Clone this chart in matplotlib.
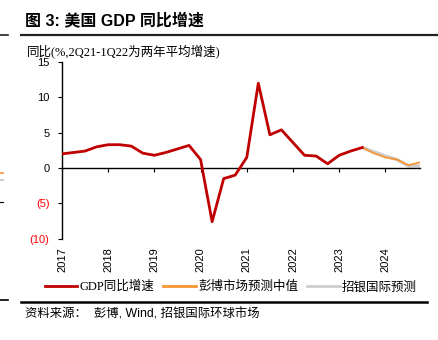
import matplotlib
matplotlib.use("Agg")
import matplotlib.pyplot as plt
from matplotlib.lines import Line2D

plt.rcParams['font.family'] = ['Liberation Sans', 'Noto Sans CJK SC', 'DejaVu Sans']

# ---- data (quarterly, 1Q17 = index 0) ----
years = ['2017', '2018', '2019', '2020', '2021', '2022', '2023', '2024']
gdp_yoy = [2.0, 2.2, 2.4, 3.0, 3.3, 3.3, 3.1, 2.1,
           1.8, 2.2, 2.7, 3.2, 1.2, -7.6, -1.5, -1.0,
           1.5, 12.0, 4.7, 5.4, 3.6, 1.8, 1.7, 0.6,
           1.8, 2.4, 2.9]
bbg_fcst = [2.9, 2.1, 1.5, 1.2, 0.4, 0.8]
cmbi_fcst = [2.9, 2.3, 1.7, 1.2, 0.3, 0.3]
yticks = [-10, -5, 0, 5, 10, 15]
ytick_labels = ['(10)', '(5)', '0', '5', '10', '15']

gdp_x = list(range(len(gdp_yoy)))
fc_start = len(gdp_yoy) - 1
bbg_x = list(range(fc_start, fc_start + len(bbg_fcst)))
cmbi_x = list(range(fc_start, fc_start + len(cmbi_fcst)))
year_pos = [4 * i for i in range(len(years))]

RED = '#C00000'
ORANGE = '#F79433'
GREY = '#CDCDCD'

fig = plt.figure(figsize=(4.39, 3.40), dpi=100)
W, H = 439, 340
ax = fig.add_axes([62 / W, 1 - 238.7 / H, (420 - 62) / W, (238.7 - 62) / H])

ax.plot(cmbi_x, cmbi_fcst, color=GREY, lw=2.4, solid_capstyle='butt', zorder=2)
ax.plot(bbg_x, bbg_fcst, color=ORANGE, lw=1.3, zorder=3)
ax.plot(gdp_x, gdp_yoy, color=RED, lw=2.0, zorder=4)

ax.set_xlim(0, 31)
ax.set_ylim(-10, 15)

for s in ['top', 'right']:
    ax.spines[s].set_visible(False)
ax.spines['left'].set_linewidth(1.0)
ax.spines['bottom'].set_position(('data', 0))
ax.spines['bottom'].set_linewidth(1.0)

ax.set_yticks(yticks)
ax.set_yticklabels(ytick_labels)
for lab, v in zip(ax.get_yticklabels(), yticks):
    lab.set_color('#FF0000' if v < 0 else 'black')
ax.tick_params(axis='y', direction='out', length=3, width=0.8, pad=6, labelsize=8)

ax.set_xticks(year_pos)
ax.tick_params(axis='x', direction='out', length=3, width=0.8, labelbottom=False)

sec = ax.secondary_xaxis(0)
sec.set_xticks(year_pos)
sec.set_xticklabels(years, rotation=90)
sec.tick_params(axis='x', length=0, pad=6, labelsize=8)
sec.spines['bottom'].set_visible(False)

# y axis caption
fig.text(27 / W, 1 - 51 / H, '同比(%,2Q21-1Q22为两年平均增速)', fontsize=9,
         family=['Liberation Serif', 'Noto Sans CJK SC'], ha='left', va='center')

# title
fig.text(25 / W, 1 - 20 / H, '图 3: 美国 GDP 同比增速', fontsize=11.5, fontweight='bold',
         family=['Liberation Sans', 'Noto Sans CJK SC'], ha='left', va='center')

# rules
fig.add_artist(Line2D([21 / W, 437 / W], [1 - 35 / H, 1 - 35 / H], color='#222222', lw=1.6))
fig.add_artist(Line2D([0, 8 / W], [1 - 35 / H, 1 - 35 / H], color='#222222', lw=1.2))
fig.add_artist(Line2D([21 / W, 427 / W], [1 - 301.5 / H, 1 - 301.5 / H], color='black', lw=1.8))
fig.add_artist(Line2D([0, 8 / W], [1 - 300 / H, 1 - 300 / H], color='black', lw=1.2))
# fragments at left edge
fig.add_artist(Line2D([0, 3 / W], [1 - 172.5 / H, 1 - 172.5 / H], color=ORANGE, lw=1.2))
fig.add_artist(Line2D([0, 3 / W], [1 - 180 / H, 1 - 180 / H], color=GREY, lw=1.5))
fig.add_artist(Line2D([0, 3 / W], [1 - 201.5 / H, 1 - 201.5 / H], color='black', lw=0.8))

# legend
handles = [Line2D([], [], color=RED, lw=2.0),
           Line2D([], [], color=ORANGE, lw=2.0),
           Line2D([], [], color=GREY, lw=2.0)]
labels = ['GDP同比增速', '彭博市场预测中值', '招银国际预测']
fig.legend(handles, labels, loc='center', bbox_to_anchor=(231 / W, 1 - 287 / H),
           ncol=3, frameon=False, handlelength=2.6, handletextpad=0.2,
           columnspacing=0.7, borderaxespad=0, borderpad=0,
           prop={'family': ['Liberation Serif', 'Noto Sans CJK SC'], 'size': 9})

# source
fig.text(25 / W, 1 - 314 / H, '资料来源：  彭博, Wind, 招银国际环球市场', fontsize=8.9,
         family=['Liberation Sans', 'Noto Sans CJK SC'], ha='left', va='center')

fig.savefig('out.png', dpi=100)
